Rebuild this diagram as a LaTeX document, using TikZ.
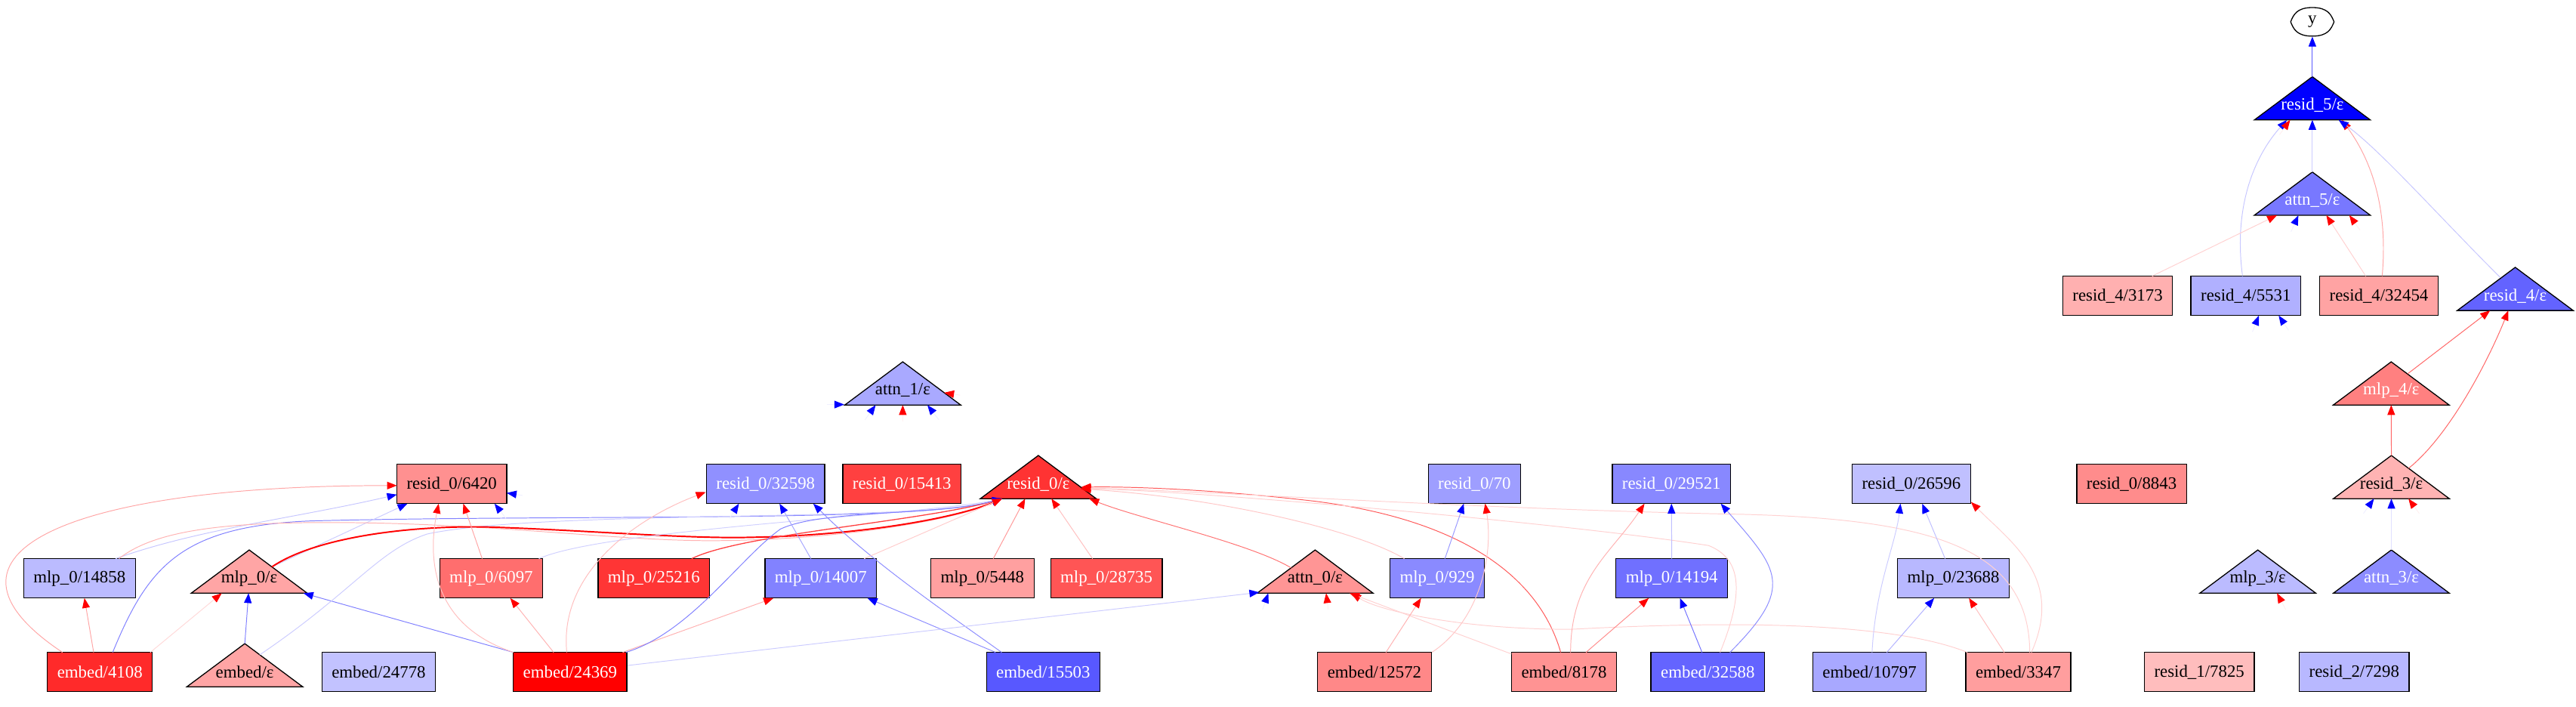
\documentclass[tikz,border=0pt]{standalone}
\usepackage{fontspec}
\setmainfont{Liberation Serif}
\usetikzlibrary{arrows.meta,calc}
\newcommand\lblfont{\fontsize{10.5}{12}\selectfont}
\definecolor{kR5}{HTML}{0000FF}
\definecolor{kA5}{HTML}{7878FF}
\definecolor{kR4a}{HTML}{FFB0B0}
\definecolor{kR4b}{HTML}{B0B0FF}
\definecolor{kR4c}{HTML}{FFA3A3}
\definecolor{kR4e}{HTML}{6363FF}
\definecolor{kA1}{HTML}{A9A9FF}
\definecolor{kM4}{HTML}{FF8080}
\definecolor{kR0a}{HTML}{FF9090}
\definecolor{kR0b}{HTML}{9090FF}
\definecolor{kR0c}{HTML}{FF4040}
\definecolor{kR0e}{HTML}{FF3333}
\definecolor{kR0d}{HTML}{9E9EFF}
\definecolor{kR0f}{HTML}{8888FF}
\definecolor{kR0g}{HTML}{C0C0FF}
\definecolor{kR0h}{HTML}{FF8C8C}
\definecolor{kR3}{HTML}{FFB3B3}
\definecolor{kM0a}{HTML}{BBBBFF}
\definecolor{kM0e}{HTML}{FFA5A5}
\definecolor{kM0b}{HTML}{FF6E6E}
\definecolor{kM0c}{HTML}{FF3535}
\definecolor{kM0d}{HTML}{8282FF}
\definecolor{kM0f}{HTML}{FFA0A0}
\definecolor{kM0g}{HTML}{FF5555}
\definecolor{kA0}{HTML}{FF9595}
\definecolor{kM0h}{HTML}{8A8AFF}
\definecolor{kM0i}{HTML}{7070FF}
\definecolor{kM0j}{HTML}{B8B8FF}
\definecolor{kM3}{HTML}{BBBBFF}
\definecolor{kA3}{HTML}{8C8CFF}
\definecolor{kE1}{HTML}{FF2A2A}
\definecolor{kEe}{HTML}{FFA5A5}
\definecolor{kE2}{HTML}{C2C2FF}
\definecolor{kE3}{HTML}{FF0000}
\definecolor{kE4}{HTML}{5858FF}
\definecolor{kE5}{HTML}{FF8888}
\definecolor{kE6}{HTML}{FF9393}
\definecolor{kE7}{HTML}{6464FF}
\definecolor{kE8}{HTML}{A8A8FF}
\definecolor{kE9}{HTML}{FF9E9E}
\definecolor{kRr1}{HTML}{FFBDBD}
\definecolor{kRr2}{HTML}{B8B8FF}
\tikzset{
  box/.style={draw=black,line width=0.6pt,minimum height=24pt,inner xsep=6pt,inner ysep=0pt,font=\lblfont},
  lbl/.style={inner sep=0pt,font=\lblfont},
  tipR/.style={-{Triangle[length=6pt,width=4.6pt,color=red]}},
  tipB/.style={-{Triangle[length=6pt,width=4.6pt,color=blue]}},
  er/.style={draw=#1,line width=0.45pt,tipR},
  eb/.style={draw=#1,line width=0.45pt,tipB},
}
\newcommand\mytri[6]{%
  \filldraw[fill=#4,draw=black,line width=0.6pt] (#2-35.3,#3+9) -- (#2,#3-17.3) -- (#2+35.3,#3+9) -- cycle;
  \node[lbl,text=#5] (#1) at (#2,#3) {#6};
}
\begin{document}
\begin{tikzpicture}[x=1pt,y=-1pt]
\useasboundingbox (0,0) rectangle (1568,430);
% ---------- nodes ----------
\draw[line width=0.6pt,fill=white] (1394.3,13.3) .. controls (1396,9) and (1398,4.6) .. (1407.5,4.6) .. controls (1417,4.6) and (1419,9) .. (1420.7,13.3) .. controls (1419,17.6) and (1417,22) .. (1407.5,22) .. controls (1398,22) and (1396,17.6) .. cycle;
\node[lbl] (yN) at (1407.5,13.3) {y};
\mytri{r5}{1407.5}{64}{kR5}{white}{resid\_5/ε}
\mytri{a5}{1407.5}{122}{kA5}{white}{attn\_5/ε}
\node[box,fill=kR4a] (r4a) at (1289,180) {resid\_4/3173};
\node[box,fill=kR4b] (r4b) at (1367,180) {resid\_4/5531};
\node[box,fill=kR4c] (r4c) at (1448,180) {resid\_4/32454};
\mytri{r4e}{1531}{180}{kR4e}{white}{resid\_4/ε}
\mytri{a1}{549.5}{237.5}{kA1}{black}{attn\_1/ε}
\mytri{m4}{1455.5}{237.5}{kM4}{white}{mlp\_4/ε}
\node[box,fill=kR0a] (r0a) at (275,294.5) {resid\_0/6420};
\node[box,fill=kR0b,text=white] (r0b) at (466,294.5) {resid\_0/32598};
\node[box,fill=kR0c,text=white] (r0c) at (549,294.5) {resid\_0/15413};
\mytri{r0e}{632}{294.5}{kR0e}{white}{resid\_0/ε}
\node[box,fill=kR0d,text=white] (r0d) at (897.5,294.5) {resid\_0/70};
\node[box,fill=kR0f,text=white] (r0f) at (1017.4,294.5) {resid\_0/29521};
\node[box,fill=kR0g] (r0g) at (1163.4,294.5) {resid\_0/26596};
\node[box,fill=kR0h] (r0h) at (1297.5,294.5) {resid\_0/8843};
\mytri{r3}{1455.6}{294.5}{kR3}{black}{resid\_3/ε}
\node[box,fill=kM0a] (m0a) at (48.4,352) {mlp\_0/14858};
\mytri{m0e}{151.7}{352}{kM0e}{black}{mlp\_0/ε}
\node[box,fill=kM0b,text=white] (m0b) at (299,352) {mlp\_0/6097};
\node[box,fill=kM0c,text=white] (m0c) at (398,352) {mlp\_0/25216};
\node[box,fill=kM0d,text=white] (m0d) at (499.6,352) {mlp\_0/14007};
\node[box,fill=kM0f] (m0f) at (598,352) {mlp\_0/5448};
\node[box,fill=kM0g,text=white] (m0g) at (673.5,352) {mlp\_0/28735};
\mytri{a0}{800.5}{352}{kA0}{black}{attn\_0/ε}
\node[box,fill=kM0h,text=white] (m0h) at (874.8,352) {mlp\_0/929};
\node[box,fill=kM0i,text=white] (m0i) at (1017.6,352) {mlp\_0/14194};
\node[box,fill=kM0j] (m0j) at (1189,352) {mlp\_0/23688};
\mytri{m3}{1374.3}{352}{kM3}{black}{mlp\_3/ε}
\mytri{a3}{1455.6}{352}{kA3}{white}{attn\_3/ε}
\node[box,fill=kE1,text=white] (e1) at (60.8,409) {embed/4108};
\mytri{ee}{149}{409}{kEe}{black}{embed/ε}
\node[box,fill=kE2] (e2) at (230.5,409) {embed/24778};
\node[box,fill=kE3,text=white] (e3) at (347,409) {embed/24369};
\node[box,fill=kE4,text=white] (e4) at (635,409) {embed/15503};
\node[box,fill=kE5] (e5) at (836.6,409) {embed/12572};
\node[box,fill=kE6] (e6) at (952,409) {embed/8178};
\node[box,fill=kE7,text=white] (e7) at (1039.5,409) {embed/32588};
\node[box,fill=kE8] (e8) at (1138,409) {embed/10797};
\node[box,fill=kE9] (e9) at (1228.5,409) {embed/3347};
\node[box,fill=kRr1] (rr1) at (1338.7,409) {resid\_1/7825};
\node[box,fill=kRr2] (rr2) at (1433,409) {resid\_2/7298};
% ---------- top edges ----------
\draw[eb=blue!65] ($(r5)+(0,-17.3)$) -- ($(yN)+(0,9)$);
\draw[eb=blue!20] ($(a5)+(0,-17.3)$) -- ($(r5)+(0,9)$);
\draw[eb=blue!22] ($(r4b)+(-2,-12)$) .. controls +(-6,-45) and +(-18,20) .. ($(r5)+(-15.5,9)$);
\draw[er=red!35] ($(r4c)+(2,-12)$) .. controls +(4,-45) and +(16,22) .. ($(r5)+(18,9)$);
\draw[eb=blue!22] ($(r4e)+(-9,-11)$) .. controls +(-40,-40) and +(25,18) .. ($(r5)+(16,9)$);
\draw[er=red!18] ($(r4a)+(21,-12)$) -- ($(a5)+(-21.5,9)$);
\draw[er=red!18] ($(r4c)+(-8,-12)$) -- ($(a5)+(8.5,9)$);
\draw[er=red!60] ($(m4)+(10,-10)$) -- ($(r4e)+(-15.3,9)$);
\draw[er=red!60] ($(r3)+(10.5,-9.5)$) .. controls +(25,-20) and +(-12,30) .. ($(r4e)+(-4.2,9)$);
\draw[er=red!60] ($(r3)+(0,-17.3)$) -- ($(m4)+(0,9)$);
\draw[eb=blue!12] ($(a3)+(0,-17.3)$) -- ($(r3)+(0,9)$);
% ---------- lower edges ----------
\draw[er=red!35] ($(e1)+(-22.8,-12)$) .. controls +(-90,-60) and +(-200,0) .. ($(r0a)+(-33.4,1)$);
\draw[eb=blue!22] ($(m0a)+(22,-12)$) .. controls +(50,-18) and +(-60,14) .. ($(r0a)+(-33.4,6.5)$);
\draw[er=red!35] ($(e1)+(-3.8,-12)$) -- ($(m0a)+(3,12)$);
\draw[er=red!15] ($(e1)+(30.7,-12)$) -- ($(m0e)+(-16.7,9)$);
\draw[eb=blue!50] ($(ee)+(0,-17.3)$) -- ($(m0e)+(-0.4,9)$);
\draw[eb=blue!50] ($(e3)+(-34.5,-12)$) -- ($(m0e)+(33,9)$);
\draw[eb=blue!50] ($(e1)+(7.8,-12)$) .. controls (90,345) and (110,320) .. (190,317) .. controls (350,313) and (560,318) .. ($(r0e)+(-22,9)$);
\draw[eb=blue!20] ($(ee)+(9.1,-10.5)$) .. controls (215,360) and (230,335) .. (260,325) .. controls (330,310) and (560,318) .. ($(r0e)+(-22,9)$);
\draw[eb=blue!20] ($(m0e)+(13.8,-7)$) -- ($(r0a)+(-27,12)$);
\draw[er=red!30] ($(m0a)+(24,-12)$) .. controls (95,322) and (140,318) .. (200,318) .. controls (300,318) and (380,330) .. (440,329) .. controls (520,328) and (585,315) .. ($(r0e)+(-22,9)$);
\draw[er=red,line width=0.9pt] ($(m0e)+(13.8,-7)$) .. controls (195,325) and (260,319) .. (305,321) .. controls (360,323) and (420,328) .. (457,327) .. controls (520,326) and (580,316) .. ($(r0e)+(-22,9)$);
\draw[er=red!25] ($(e3)+(-34.5,-12)$) .. controls +(-45,-15) and +(-8,40) .. ($(r0a)+(-8,12)$);
\draw[er=red!35] ($(m0b)+(-5.5,-12)$) -- ($(r0a)+(7,12)$);
\draw[eb=blue!18] ($(m0b)+(29,-12)$) .. controls +(40,-18) and +(-50,10) .. ($(r0e)+(-22,9)$);
\draw[er=red!30] ($(e3)+(-10,-12)$) -- ($(m0b)+(11.6,12)$);
\draw[er=red!25] ($(e3)+(-2,-12)$) .. controls +(-5,-50) and +(-40,15) .. ($(r0b)+(-36.4,5)$);
\draw[er=red!75,line width=0.6pt] ($(m0c)+(23,-12)$) .. controls +(30,-15) and +(-50,14) .. ($(r0e)+(-22,9)$);
\draw[er=red!30] ($(e3)+(32,-12)$) -- ($(m0d)+(-28.8,12)$);
\draw[eb=blue!50] ($(e3)+(34,-12)$) .. controls (420,385) and (450,340) .. (475,322) .. controls (500,310) and (570,314) .. ($(r0e)+(-22,9)$);
\draw[eb=blue!35] ($(m0d)+(-6,-12)$) -- ($(r0b)+(8.5,12)$);
\draw[eb=blue!45] ($(e4)+(-25.3,-12)$) .. controls +(-35,-25) and +(35,35) .. ($(r0b)+(29,12)$);
\draw[eb=blue!45] ($(e4)+(-29,-12)$) -- ($(m0d)+(28.4,12)$);
\draw[eb=blue!20] ($(e3)+(35,-4)$) -- ($(a0)+(-34,8.5)$);
\draw[er=red!20] ($(m0d)+(26.4,-12)$) -- ($(r0e)+(-22,9)$);
\draw[er=red!40] ($(m0f)+(6.6,-12)$) -- ($(r0e)+(-8,9)$);
\draw[er=red!25] ($(m0g)+(-8.5,-12)$) -- ($(r0e)+(8,9)$);
\draw[er=red!55] ($(a0)+(-14.6,-6.4)$) .. controls +(-25,-15) and +(30,12) .. ($(r0e)+(31,9)$);
\draw[er=red!65] ($(e6)+(-2,-12)$) .. controls (935,345) and (880,315) .. (800,305) .. controls (740,298) and (690,296) .. ($(r0e)+(26,2)$);
\draw[er=red!22] ($(m0h)+(-20,-12)$) .. controls +(-30,-18) and +(80,5) .. ($(r0e)+(26,3)$);
\draw[er=red!18] ($(e9)+(7,-12)$) .. controls (1235,335) and (1180,316) .. (1060,313) .. controls (900,310) and (720,298) .. ($(r0e)+(26,2.5)$);
\draw[er=red!18] ($(e7)+(7.5,-12)$) .. controls (1062,360) and (1060,340) .. (1040,332) .. controls (950,318) and (720,298) .. ($(r0e)+(26,3)$);
\draw[er=red!18] ($(e9)+(-31,-12)$) .. controls (1150,378) and (1050,378) .. (956,383) .. controls (890,383) and (840,372) .. ($(a0)+(22,9)$);
\draw[er=red!18] ($(e6)+(-32,-11)$) -- ($(a0)+(21,9)$);
\draw[eb=blue!40] ($(m0h)+(4.7,-12)$) -- ($(r0d)+(-6.5,12)$);
\draw[er=red!30] ($(e5)+(7,-12)$) -- ($(m0h)+(-9.8,12)$);
\draw[er=red!22] ($(e5)+(35,-12)$) .. controls +(30,-20) and +(5,30) .. ($(r0d)+(6.5,12)$);
\draw[er=red!30] ($(e6)+(4,-12)$) .. controls +(0,-45) and +(-20,30) .. ($(r0f)+(-16.4,12)$);
\draw[er=red!45] ($(e6)+(13.4,-12)$) -- ($(m0i)+(-14,12)$);
\draw[eb=blue!25] ($(m0i)+(0,-12)$) -- ($(r0f)+(0,12)$);
\draw[eb=blue!55] ($(e7)+(-3.5,-12)$) -- ($(m0i)+(5,12)$);
\draw[eb=blue!45] ($(e7)+(13.5,-12)$) .. controls +(40,-40) and +(35,40) .. ($(r0f)+(30,12)$);
\draw[eb=blue!20] ($(e8)+(1.5,-12)$) .. controls +(2,-40) and +(-3,25) .. ($(r0g)+(-6.6,12)$);
\draw[eb=blue!25] ($(m0j)+(-5,-12)$) -- ($(r0g)+(6.6,12)$);
\draw[eb=blue!30] ($(e8)+(10.5,-12)$) -- ($(m0j)+(-11.7,12)$);
\draw[er=red!25] ($(e9)+(-8.5,-12)$) -- ($(m0j)+(9.5,12)$);
\draw[er=red!18] ($(e9)+(8,-12)$) .. controls +(20,-45) and +(25,25) .. ($(r0g)+(36.3,11)$);
% ---------- arrowheads whose lines are nearly invisible ----------
\coordinate (s1) at ($(a1)+(-46,8.7)$);
\coordinate (s2) at ($(a1)+(-23,18)$);
\coordinate (s3) at ($(a1)+(0,19)$);
\coordinate (s4) at ($(a1)+(22,18)$);
\coordinate (s5) at ($(a1)+(35,3)$);
\coordinate (s6) at ($(a5)+(-13,19)$);
\coordinate (s7) at ($(a5)+(29,18)$);
\coordinate (s8) at ($(r5)+(-20,18)$);
\coordinate (s9) at ($(r4b)+(4,22)$);
\coordinate (s10) at ($(r4b)+(26,21)$);
\coordinate (s11) at ($(r3)+(-17,18)$);
\coordinate (s12) at ($(r3)+(17,18)$);
\coordinate (s13) at ($(m3)+(17,19)$);
\coordinate (s14) at ($(r0a)+(33,21)$);
\coordinate (s15) at ($(r0a)+(43,7)$);
\coordinate (s16) at ($(r0b)+(-22,21)$);
\coordinate (s17) at ($(a0)+(-32,19)$);
\coordinate (s18) at ($(a0)+(8,19)$);
\draw[eb=blue!6] (s1) -- ($(a1)+(-35.6,8.7)$);
\draw[eb=blue!6] (s2) -- ($(a1)+(-16.5,9)$);
\draw[er=red!6] (s3) -- ($(a1)+(0,9)$);
\draw[eb=blue!6] (s4) -- ($(a1)+(15,9)$);
\draw[er=red!6] (s5) -- ($(a1)+(25.2,1.5)$);
\draw[eb=blue!6] (s6) -- ($(a5)+(-8.5,9)$);
\draw[er=red!6] (s7) -- ($(a5)+(22.5,9)$);
\draw[er=red!6] (s8) -- ($(r5)+(-13.5,9)$);
\draw[eb=blue!6] (s9) -- ($(r4b)+(8,12)$);
\draw[eb=blue!6] (s10) -- ($(r4b)+(20,12)$);
\draw[eb=blue!6] (s11) -- ($(r3)+(-10.6,9)$);
\draw[er=red!6] (s12) -- ($(r3)+(10.4,9)$);
\draw[er=red!6] (s13) -- ($(m3)+(11.7,9)$);
\draw[eb=blue!6] (s14) -- ($(r0a)+(26,12)$);
\draw[eb=blue!6] (s15) -- ($(r0a)+(33.4,5.5)$);
\draw[eb=blue!6] (s16) -- ($(r0b)+(-16.2,12)$);
\draw[eb=blue!6] (s17) -- ($(a0)+(-28.5,9)$);
\draw[er=red!6] (s18) -- ($(a0)+(6.7,9)$);
\end{tikzpicture}
\end{document}
